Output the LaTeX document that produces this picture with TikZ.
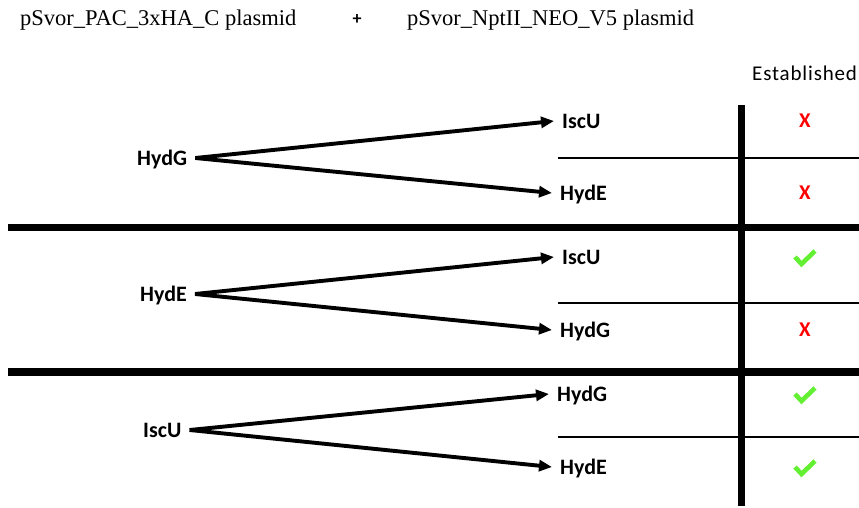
\documentclass[tikz,border=0pt]{standalone}
\usepackage{fontspec}
\setmainfont{Carlito}
\newfontfamily\titlefont{Liberation Serif}
\usetikzlibrary{arrows.meta}
\definecolor{okgreen}{RGB}{100,240,50}
\definecolor{nored}{RGB}{255,0,0}
\tikzset{
  lbl/.style={font=\fontsize{22}{24}\selectfont\bfseries, inner xsep=8pt, inner ysep=0pt, text height=14pt, text depth=0pt},
  arr/.style={line width=3.9pt, -{Triangle[length=13pt,width=11pt]}},
  thick sep/.style={line width=7.5pt},
  thin sep/.style={line width=2.6pt},
  xmark/.style={font=\fontsize{21}{24}\selectfont\bfseries, text=nored, inner sep=0pt},
  chk/.style={draw=okgreen, line width=4.6pt, line cap=butt, line join=miter},
  ttl/.style={font=\titlefont\fontsize{22.5}{24}\selectfont, inner sep=0pt, anchor=west}
}
\begin{document}
\begin{tikzpicture}[x=1pt,y=-1pt]
\useasboundingbox (0,0) rectangle (859,507);
% titles
\node[ttl] (t1) at (20,20) {pSvor\_PAC\_3xHA\_C plasmid};
\node[font=\fontsize{18}{20}\selectfont\bfseries, inner sep=0pt] (plus) at (357,20) {+};
\node[ttl] (t2) at (407,20) {pSvor\_NptII\_NEO\_V5 plasmid};
\node[font=\fontsize{21}{24}\selectfont\addfontfeature{LetterSpace=4}, inner sep=0pt, anchor=west] (est) at (752,73) {Established};
% grid lines
\coordinate (vt) at (741.5,105);
\coordinate (vb) at (741.5,506);
\draw[thick sep] (vt) -- (vb);
\coordinate (h1l) at (8,227.5); \coordinate (h1r) at (859,227.5);
\coordinate (h2l) at (8,372); \coordinate (h2r) at (859,372);
\draw[thick sep] (h1l) -- (h1r);
\draw[thick sep] (h2l) -- (h2r);
\coordinate (s1l) at (558,158); \coordinate (s1r) at (859,158);
\coordinate (s2l) at (558,303); \coordinate (s2r) at (859,303);
\coordinate (s3l) at (558,437); \coordinate (s3r) at (859,437);
\draw[thin sep] (s1l) -- (s1r);
\draw[thin sep] (s2l) -- (s2r);
\draw[thin sep] (s3l) -- (s3r);
% group 1
\node[lbl, anchor=west] (g1) at (129,158) {HydG};
\node[lbl, anchor=west] (g1a) at (554,121) {IscU};
\node[lbl, anchor=west] (g1b) at (552,193) {HydE};
\draw[arr] (g1.east) -- (g1a.west);
\draw[arr] (g1.east) -- (g1b.west);
% group 2
\node[lbl, anchor=west] (g2) at (132,294) {HydE};
\node[lbl, anchor=west] (g2a) at (554,257) {IscU};
\node[lbl, anchor=west] (g2b) at (552,330) {HydG};
\draw[arr] (g2.east) -- (g2a.west);
\draw[arr] (g2.east) -- (g2b.west);
% group 3
\node[lbl, anchor=west] (g3) at (135,430) {IscU};
\node[lbl, anchor=west] (g3a) at (549,394) {HydG};
\node[lbl, anchor=west] (g3b) at (552,467) {HydE};
\draw[arr] (g3.east) -- (g3a.west);
\draw[arr] (g3.east) -- (g3b.west);
% results
\node[xmark] (r1) at (805,121) {X};
\node[xmark] (r2) at (805,193) {X};
\draw[chk] (795,257) -- (801.5,264) -- (815,251);
\node[xmark] (r4) at (805,330) {X};
\draw[chk] (795,394) -- (801.5,401) -- (815,388);
\draw[chk] (795,467) -- (801.5,474) -- (815,461);
\end{tikzpicture}
\end{document}
